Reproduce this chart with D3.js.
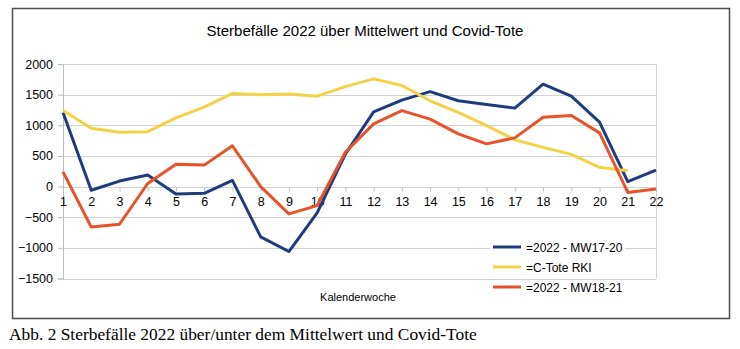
<!DOCTYPE html>
<html><head><meta charset="utf-8">
<script src="https://cdn.jsdelivr.net/npm/d3@7"></script>
<style>body{margin:0;background:#fff}svg{display:block}</style>
</head><body>
<svg id="c" width="740" height="349"></svg>
<script>
const weeks = d3.range(1, 23);
const yTicks = [-1500, -1000, -500, 0, 500, 1000, 1500, 2000];
const seriesNames = ["=2022 - MW17-20", "=C-Tote RKI", "=2022 - MW18-21"];
const blue = [1210, -60, 90, 190, -120, -110, 100, -820, -1060, -430, 530, 1220, 1410, 1550, 1400, 1340, 1280, 1670, 1475, 1050, 80, 270];
const yellow = [1240, 950, 885, 895, 1120, 1295, 1520, 1500, 1510, 1475, 1630, 1757, 1650, 1400, 1210, 995, 765, 640, 525, 315, 260];
const red = [240, -660, -615, 50, 365, 350, 665, 0, -446, -310, 560, 1023, 1240, 1100, 860, 697, 795, 1130, 1160, 876, -95, -38];
const colors = ["#1e3c7c", "#f4d247", "#e6532b"];
const data = [blue, yellow, red];

const svg = d3.select("#c");
const x = d3.scaleLinear().domain([1, 22]).range([63, 656]);
const y = d3.scaleLinear().domain([-1500, 2000]).range([278.5, 64]);

// outer border
svg.append("rect").attr("x", 12.5).attr("y", 8.5).attr("width", 717).attr("height", 310)
  .attr("fill", "#fff").attr("stroke", "#4d4d4d").attr("stroke-width", 1.5);

// title
svg.append("text").attr("x", 365).attr("y", 36).attr("text-anchor", "middle")
  .style("font-family", "Liberation Sans, Arial, sans-serif").style("font-size", "15px").attr("fill", "#000")
  .text("Sterbefälle 2022 über Mittelwert und Covid-Tote");

// gridlines
svg.append("g").selectAll("line").data(yTicks).join("line")
  .attr("x1", x(1)).attr("x2", x(22)).attr("y1", d => Math.round(y(d)) + 0.5).attr("y2", d => Math.round(y(d)) + 0.5)
  .attr("stroke", "#d3d3d3").attr("stroke-width", 1);
// right plot border
svg.append("line").attr("x1", x(22) + 0.5).attr("x2", x(22) + 0.5).attr("y1", y(2000)).attr("y2", y(-1500))
  .attr("stroke", "#d3d3d3");

// y axis
const yAxis = d3.axisLeft(y).tickValues(yTicks).tickSize(5).tickPadding(5).tickFormat(d3.format("d"));
const gy = svg.append("g").attr("transform", `translate(${x(1)},0)`).call(yAxis);
gy.select(".domain").attr("stroke", "#bdbdbd");
gy.selectAll(".tick line").attr("stroke", "#bdbdbd");
gy.selectAll("text").style("font-family", "Liberation Sans, Arial, sans-serif").style("font-size", "12.5px").attr("fill", "#000");

// x axis at 0
const xAxis = d3.axisBottom(x).tickValues(weeks).tickSize(4).tickPadding(6).tickFormat(d3.format("d"));
const gx = svg.append("g").attr("transform", `translate(0,${Math.round(y(0)) + 0.5})`).call(xAxis);
gx.select(".domain").remove();
gx.selectAll(".tick line").attr("stroke", "#bdbdbd");
gx.selectAll("text").style("font-family", "Liberation Sans, Arial, sans-serif").style("font-size", "12.5px").attr("fill", "#000");

// x axis title
svg.append("text").attr("x", 358).attr("y", 301).attr("text-anchor", "middle")
  .style("font-family", "Liberation Sans, Arial, sans-serif").style("font-size", "11px").attr("fill", "#000")
  .text("Kalenderwoche");

// lines
const line = d3.line().x((d, i) => x(weeks[i])).y(d => y(d));
data.forEach((s, k) => {
  svg.append("path").datum(s).attr("d", line).attr("fill", "none")
    .attr("stroke", colors[k]).attr("stroke-width", 3).attr("stroke-linejoin", "round");
});

// legend
svg.append("rect").attr("x", 490).attr("y", 239).attr("width", 135).attr("height", 36).attr("fill", "#fff");
const lg = svg.append("g");
seriesNames.forEach((n, k) => {
  const yy = 247 + k * 20;
  lg.append("line").attr("x1", 493).attr("x2", 521).attr("y1", yy).attr("y2", yy)
    .attr("stroke", colors[k]).attr("stroke-width", 3);
  lg.append("text").attr("x", 526).attr("y", yy + 4.5)
    .style("font-family", "Liberation Sans, Arial, sans-serif").style("font-size", "12px").attr("fill", "#000")
    .text(n);
});

// caption
svg.append("text").attr("x", 9).attr("y", 340)
  .style("font-family", "Liberation Serif, Times New Roman, serif").style("font-size", "17.4px").attr("fill", "#000")
  .text("Abb. 2 Sterbefälle 2022 über/unter dem Mittelwert und Covid-Tote");
</script>
</body></html>
